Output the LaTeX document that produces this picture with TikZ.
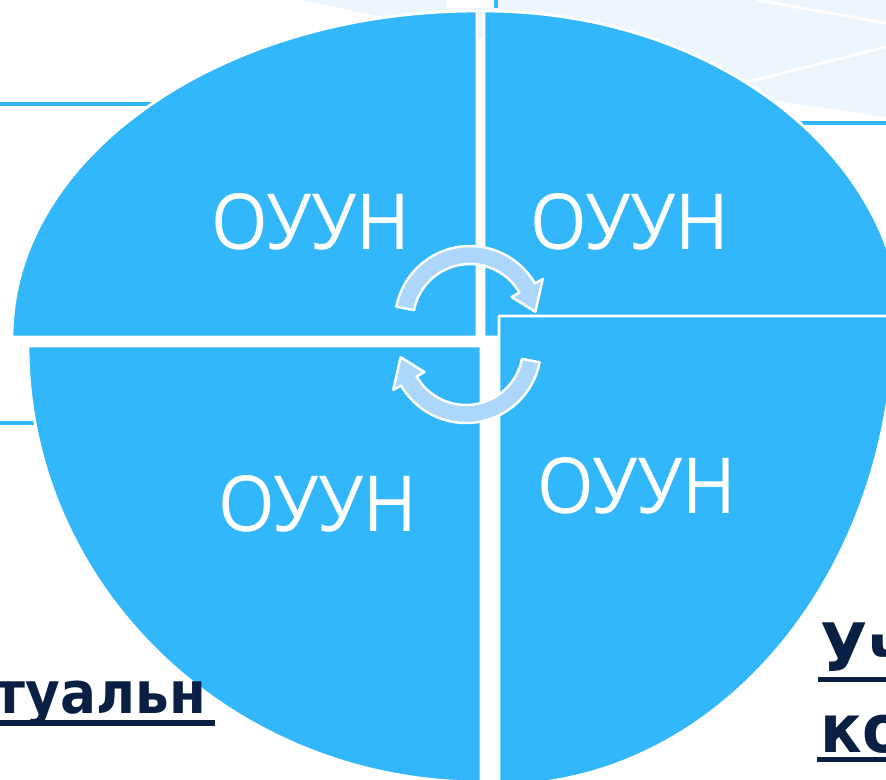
\documentclass[tikz,border=0pt]{standalone}
\usepackage{fontspec}
\newfontfamily\quadfont{Open Sans}[FakeStretch=0.94]
\newfontfamily\lblfont{DejaVu Sans}[FakeStretch=0.92]
\definecolor{quadblue}{RGB}{51,183,251}
\definecolor{arrowblue}{RGB}{172,215,251}
\definecolor{navytext}{RGB}{10,31,68}
\definecolor{palebg}{RGB}{238,246,253}
\tikzset{
  quadrant/.style={fill=quadblue,draw=white,line width=0.8pt},
  quadtext/.style={text=white,font=\quadfont\fontsize{22}{26}\selectfont},
  cyclearrow/.style={fill=arrowblue,draw=white,line width=0.7pt},
  bgline/.style={quadblue,line width=0.9pt},
  lbltext/.style={text=navytext,inner sep=0pt,font=\lblfont\bfseries\fontsize{19}{23}\selectfont},
  lblsmall/.style={text=navytext,inner sep=0pt,font=\lblfont\bfseries\fontsize{16.5}{20}\selectfont},
  uline/.style={navytext,line width=1.7pt},
}
\begin{document}
\begin{tikzpicture}[x=1cm,y=1cm,line join=round]
  \useasboundingbox (0,0) rectangle (8.86,-7.79);
  \clip (0,0) rectangle (8.86,-7.79);
  % background
  \fill[palebg] (3.00,0) -- (8.86,0) -- (8.86,-1.17) -- (7.70,-1.00) -- (3.73,-0.15) -- cycle;
  \fill[white] (4.46,0) rectangle (4.96,-0.08);
  \draw[white,line width=0.8pt] (7.57,0) -- (8.86,-0.23);
  \draw[white,line width=0.8pt] (7.47,-0.82) -- (8.86,-0.47);
  \draw[bgline] (0,-1.04) -- (3.00,-1.04);
  \draw[bgline] (0,-4.23) -- (1.00,-4.23);
  \draw[bgline] (7.00,-1.23) -- (8.86,-1.23);
  \draw[bgline] (4.96,0) -- (4.96,-0.08);
  % quadrants
  \draw[quadrant] (4.77,-3.37) -- (0.12,-3.37) arc[start angle=180,end angle=90,x radius=4.65,y radius=3.26] -- cycle;
  \draw[quadrant] (4.84,-3.37) -- (4.84,-0.11) arc[start angle=90,end angle=0,x radius=4.19,y radius=3.26] -- cycle;
  \draw[quadrant] (4.81,-3.46) -- (0.28,-3.46) arc[start angle=180,end angle=270,x radius=4.53,y radius=4.36] -- cycle;
  \draw[quadrant] (4.99,-3.16) -- (8.94,-3.16) arc[start angle=0,end angle=-90,x radius=3.95,y radius=4.69] -- cycle;
  \node[quadtext] (q1) at (3.11,-2.22) {ОУУН};
  \node[quadtext] (q2) at (6.30,-2.22) {ОУУН};
  \node[quadtext] (q3) at (3.18,-5.04) {ОУУН};
  \node[quadtext] (q4) at (6.37,-4.86) {ОУУН};
  % cycle arrows
  \coordinate (c1) at (4.70,-3.21);
  \coordinate (c2) at (4.66,-3.48);
  \draw[cyclearrow,shift={(c1)}] (169:0.75) arc[start angle=169,end angle=30,radius=0.75]
    -- (30:0.84) -- (8:0.66) -- (30:0.48) -- (30:0.57)
    arc[start angle=30,end angle=169,radius=0.57] -- cycle;
  \draw[cyclearrow,shift={(c2)}] (-11:0.75) arc[start angle=-11,end angle=-150,radius=0.75]
    -- (-150:0.84) -- (-172:0.66) -- (-150:0.48) -- (-150:0.57)
    arc[start angle=-150,end angle=-11,radius=0.57] -- cycle;
  % side labels
  \node[lblsmall,anchor=base east] (tual) at (2.07,-7.13) {туальн};
  \draw[uline] ([xshift=0.08cm,yshift=-0.10cm]tual.base east) -- ++(-2.5,0);
  \node[lbltext,anchor=base west] (uch) at (8.20,-6.71) {Уч};
  \draw[uline] ([xshift=-0.02cm,yshift=-0.085cm]uch.base west) -- ++(1,0);
  \node[lbltext,anchor=base west] (ko) at (8.20,-7.52) {ко};
  \draw[uline] ([xshift=-0.03cm,yshift=-0.075cm]ko.base west) -- ++(1,0);
\end{tikzpicture}
\end{document}
